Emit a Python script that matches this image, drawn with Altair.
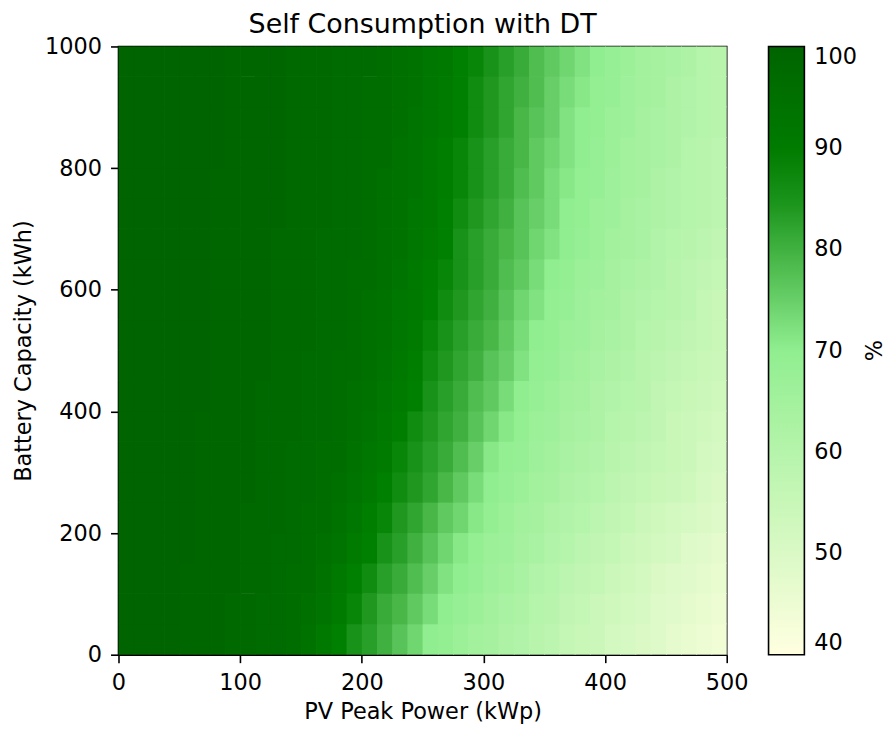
import altair as alt
import pandas as pd

# PV peak power cell edges (kWp) and battery capacity cell edges (kWh)
pv_edges = [0, 12.5, 25, 37.5, 50, 62.5, 75, 87.5, 100, 112.5, 125, 137.5, 150, 162.5,
            175, 187.5, 200, 212.5, 225, 237.5, 250, 262.5, 275, 287.5, 300, 312.5, 325,
            337.5, 350, 362.5, 375, 387.5, 400, 412.5, 425, 437.5, 450, 462.5, 475, 487.5, 500]
bat_edges = [0, 50, 100, 150, 200, 250, 300, 350, 400, 450, 500, 550, 600, 650, 700,
             750, 800, 850, 900, 950, 1000]

# Self consumption (%), one row per battery band (bottom first)
sc_rows = [
    [100,100,100,100,99,99,99,98,98,97,97,96,94,91,88,85,83,80,77,74,70,69,67,65,64,62,61,59,58,56,55,54,52,51,50,49,47,46,45,44],
    [100,100,100,100,99,99,99,98,98,97,97,96,95,93,90,87,84,81,79,76,73,70,68,67,65,63,62,60,59,57,56,54,53,52,51,49,48,47,46,45],
    [100,100,100,100,99,99,99,99,98,98,97,96,96,94,91,88,86,83,81,78,75,72,70,68,66,65,63,61,60,58,57,56,54,53,52,50,49,48,47,46],
    [100,100,100,100,100,99,99,99,98,98,97,97,96,95,93,90,88,85,83,80,77,74,71,69,67,66,64,63,61,60,58,57,56,54,53,52,51,49,48,47],
    [100,100,100,100,100,99,99,99,98,98,98,97,96,96,94,92,89,87,84,82,79,76,74,71,69,67,65,64,62,61,60,58,57,56,54,53,52,51,50,49],
    [100,100,100,100,100,99,99,99,99,98,98,97,97,96,95,93,91,88,86,84,82,79,76,73,70,68,67,65,64,62,61,60,58,57,56,55,54,53,51,50],
    [100,100,100,100,100,99,99,99,99,98,98,97,97,96,96,94,92,90,87,85,83,81,78,75,71,69,68,66,65,63,62,61,59,58,57,56,55,54,52,51],
    [100,100,100,100,100,99,99,99,99,98,98,98,97,97,96,95,93,91,89,86,84,82,80,77,74,71,69,67,66,64,63,62,60,59,58,57,55,54,53,52],
    [100,100,100,100,100,100,99,99,99,98,98,98,97,97,96,95,94,92,90,88,85,83,81,78,76,73,70,68,67,65,64,62,61,60,59,57,56,55,54,53],
    [100,100,100,100,100,100,99,99,99,99,98,98,97,97,96,96,95,93,91,89,86,84,82,80,77,75,72,69,68,66,65,63,62,61,59,58,57,56,55,54],
    [100,100,100,100,100,100,99,99,99,99,98,98,98,97,97,96,95,94,92,90,87,85,83,81,79,76,73,70,69,67,66,64,63,62,60,59,58,57,56,55],
    [100,100,100,100,100,100,99,99,99,99,98,98,98,97,97,96,95,94,92,91,88,86,84,82,80,77,74,72,69,68,66,65,64,62,61,60,59,58,56,55],
    [100,100,100,100,100,100,99,99,99,99,98,98,98,97,97,96,96,95,93,91,89,87,85,83,81,78,76,73,70,69,67,66,64,63,62,61,59,58,57,56],
    [100,100,100,100,100,100,99,99,99,99,98,98,98,97,97,97,96,95,94,92,90,88,85,83,81,79,77,74,72,70,68,67,65,64,63,61,60,59,58,57],
    [100,100,100,100,100,100,99,99,99,99,99,98,98,98,97,97,96,95,94,92,91,88,86,84,82,80,77,75,73,70,69,67,66,64,63,62,61,60,59,58],
    [100,100,100,100,100,100,99,99,99,99,99,98,98,98,97,97,96,95,94,93,91,89,87,85,83,81,78,76,73,71,69,68,66,65,64,62,61,60,59,58],
    [100,100,100,100,100,100,100,99,99,99,99,98,98,98,97,97,96,96,94,93,91,89,87,85,83,81,79,76,74,72,70,68,67,65,64,63,62,60,59,58],
    [100,100,100,100,100,100,100,99,99,99,99,98,98,98,97,97,96,96,95,93,92,90,88,86,84,82,79,77,75,72,70,69,67,66,64,63,62,61,60,59],
    [100,100,100,100,100,100,100,99,99,99,99,98,98,98,97,97,96,96,95,94,92,90,88,86,84,82,80,78,75,73,71,69,68,66,65,64,62,61,60,59],
    [100,100,100,100,100,100,100,99,99,99,99,98,98,98,97,97,97,96,95,94,92,91,88,87,85,83,81,78,76,74,72,70,68,67,65,64,63,62,60,59],
]

x_ticks = [0, 100, 200, 300, 400, 500]
y_ticks = [0, 200, 400, 600, 800, 1000]
cbar_ticks = [40, 50, 60, 70, 80, 90, 100]
cbar_label = ["%"]

# small overlap so neighbouring cells leave no anti-aliasing seams
PV_OVER = 0.6
BAT_OVER = 1.2

assert len(sc_rows) == len(bat_edges) - 1
records = []
for i, row in enumerate(sc_rows):
    assert len(row) == len(pv_edges) - 1, (i, len(row))
    for j, v in enumerate(row):
        records.append({"pv": pv_edges[j],
                        "pv2": min(pv_edges[j + 1] + PV_OVER, pv_edges[-1]),
                        "bat": bat_edges[i],
                        "bat2": min(bat_edges[i + 1] + BAT_OVER, bat_edges[-1]),
                        "sc": v})
df = pd.DataFrame(records)

FONT = "DejaVu Sans"
FS = 22.5

color_scale = alt.Scale(domain=[40, 70, 88, 100],
                        range=["#ffffe0", "#90ee90", "#008000", "#006400"],
                        interpolate="rgb")

heat = alt.Chart(df).mark_rect().encode(
    x=alt.X("pv:Q", scale=alt.Scale(domain=[0, 500], nice=False, zero=False),
            axis=alt.Axis(values=x_ticks, title="PV Peak Power (kWp)", labelFlush=False,
                          format="d", labelPadding=9, titlePadding=7)),
    x2="pv2:Q",
    y=alt.Y("bat:Q", scale=alt.Scale(domain=[0, 1000], nice=False, zero=False),
            axis=alt.Axis(values=y_ticks, title="Battery Capacity (kWh)", labelFlush=False,
                          format="d", labelPadding=9, titlePadding=9,
                          minExtent=74, maxExtent=74)),
    y2="bat2:Q",
    color=alt.Color("sc:Q", scale=color_scale,
                    legend=alt.Legend(type="gradient", title=None, orient="right",
                                      direction="vertical",
                                      values=cbar_ticks, gradientLength=611,
                                      gradientThickness=36, gradientStrokeColor="black",
                                      gradientStrokeWidth=1.6, labelFontSize=FS,
                                      labelFont=FONT, labelColor="black", labelOffset=10,
                                      labelBaseline="middle",
                                      labelOverlap=False, offset=42, padding=0)),
)

pct = alt.Chart(pd.DataFrame({"t": cbar_label})).mark_text(
    angle=270, font=FONT, fontSize=FS, color="black", align="center", baseline="middle"
).encode(
    text="t:N",
    x=alt.value(760),
    y=alt.value(305.5),
)

chart = alt.layer(heat, pct).properties(
    width=611, height=611,
    title=alt.TitleParams("Self Consumption with DT", fontSize=27, font=FONT,
                          fontWeight="normal", color="black", offset=-3, anchor="middle"),
    padding={"left": 5, "top": 1, "right": 0, "bottom": 0},
).configure_view(
    stroke="black", strokeWidth=1.6
).configure_axis(
    labelFont=FONT, titleFont=FONT, labelFontSize=FS, titleFontSize=FS,
    labelColor="black", titleColor="black", tickColor="black", domainColor="black",
    tickSize=8, tickWidth=1.6, domainWidth=1.6, grid=False, titleFontWeight="normal"
)

chart.save("out.html", embed_options={"renderer": "svg", "actions": False})
